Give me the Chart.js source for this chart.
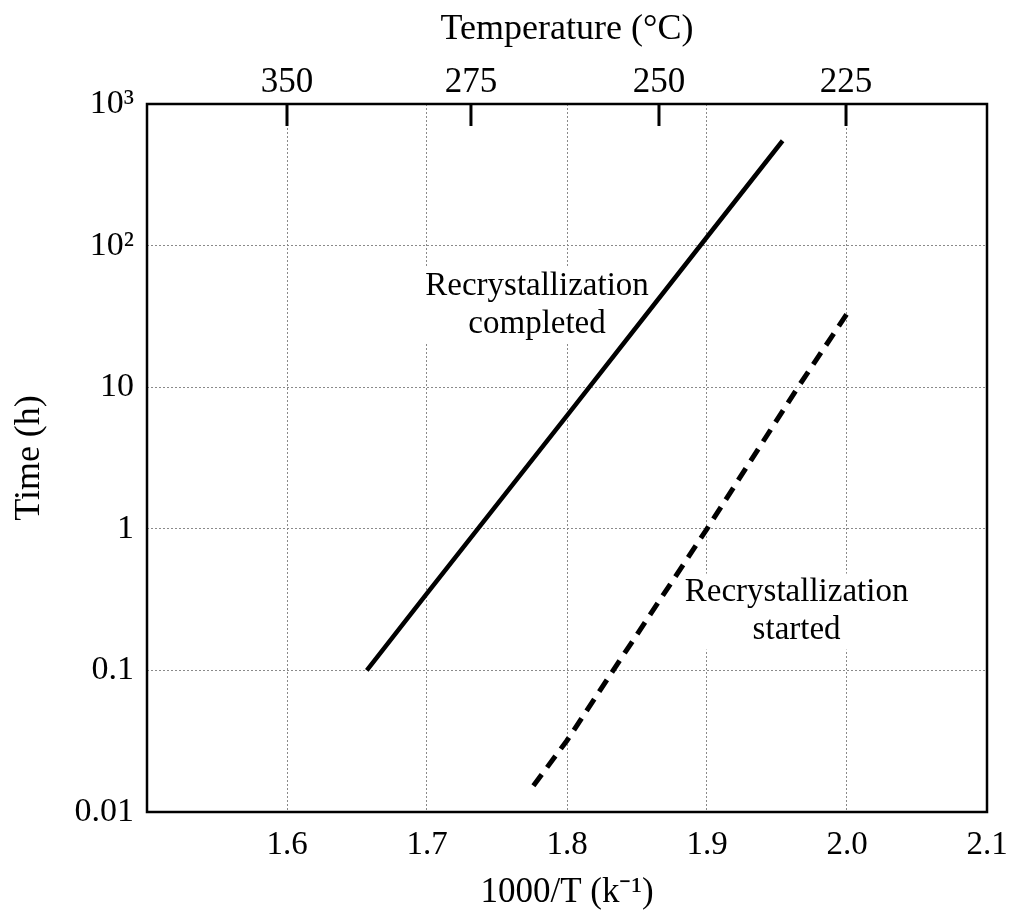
<!DOCTYPE html>
<html>
<head>
<meta charset="utf-8">
<script src="https://cdn.jsdelivr.net/npm/chart.js@4.4.1/dist/chart.umd.min.js"></script>
<style>
  html, body { margin: 0; padding: 0; background: #fff; }
</style>
</head>
<body>
<canvas id="recrystChart" width="1010" height="922"></canvas>
<script>
// 1000/T (k^-1) against time (h) for each curve
const completedX = [1.657, 1.7, 1.8, 1.9, 1.954];
const completedY = [0.1, 0.35, 6.3, 115, 550];
const startedX = [1.776, 1.8, 1.833, 1.9, 1.965, 2.0];
const startedY = [0.0153, 0.032, 0.1, 1, 10, 33];

const timeTicks = [0.01, 0.1, 1, 10, 100, 1000];
const timeLabels = ['0.01', '0.1', '1', '10', '10²', '10³'];
const invTTicks = [1.6, 1.7, 1.8, 1.9, 2.0, 2.1];
// temperature marks along the top, placed on the 1000/T scale
const tempTicks = [1.6, 1.7314, 1.8657, 1.9993];
const tempLabels = ['350', '275', '250', '225'];

// curve captions: [1000/T, time, lines]
const captions = [
  [1.7786, 38, ['Recrystallization', 'completed']],
  [1.964, 0.26, ['Recrystallization', 'started']]
];

Chart.defaults.font.family = '"Liberation Serif", "Times New Roman", serif';
Chart.defaults.color = '#000';

const toPoints = (xs, ys) => xs.map((x, i) => ({ x: x, y: ys[i] }));

const gridStyle = {
  color: '#8a8a8a',
  lineWidth: 1,
  drawTicks: false
};

const framePlugin = {
  id: 'frame',
  beforeDatasetsDraw(chart) {
    const { ctx } = chart;
    const xs = chart.scales.x, ys = chart.scales.y;
    ctx.save();
    ctx.font = '33px "Liberation Serif", serif';
    ctx.textAlign = 'center';
    ctx.textBaseline = 'middle';
    captions.forEach(c => {
      const cx = xs.getPixelForValue(c[0]);
      const cy = ys.getPixelForValue(c[1]);
      const lines = c[2];
      const lh = 38;
      const w = Math.max(...lines.map(l => ctx.measureText(l).width)) + 8;
      const h = lh * lines.length;
      ctx.fillStyle = '#fff';
      ctx.fillRect(cx - w / 2, cy - h / 2, w, h);
      ctx.fillStyle = '#000';
      lines.forEach((l, i) => ctx.fillText(l, cx, cy - h / 2 + lh / 2 + i * lh));
    });
    ctx.restore();
  },
  afterDraw(chart) {
    const { ctx, chartArea: a } = chart;
    const top = chart.scales.xTop;
    ctx.save();
    ctx.strokeStyle = '#000';
    ctx.lineWidth = 2.5;
    ctx.strokeRect(a.left, a.top, a.right - a.left, a.bottom - a.top);
    // temperature marks point down into the plot
    ctx.lineWidth = 3;
    top.ticks.forEach(t => {
      const x = top.getPixelForValue(t.value);
      ctx.beginPath();
      ctx.moveTo(x, a.top);
      ctx.lineTo(x, a.top + 22);
      ctx.stroke();
    });
    ctx.restore();
  }
};

const ctx = document.getElementById('recrystChart').getContext('2d');
const recrystChart = new Chart(ctx, {
  type: 'line',
  data: {
    datasets: [{
      label: 'Recrystallization completed',
      data: toPoints(completedX, completedY),
      borderColor: '#000',
      borderWidth: 4.5,
      pointRadius: 0,
      tension: 0,
      xAxisID: 'x',
      yAxisID: 'y'
    }, {
      label: 'Recrystallization started',
      data: toPoints(startedX, startedY),
      borderColor: '#000',
      borderWidth: 5,
      borderDash: [14, 9],
      pointRadius: 0,
      tension: 0,
      xAxisID: 'x',
      yAxisID: 'y'
    }]
  },
  options: {
    responsive: false,
    animation: false,
    events: [],
    layout: { padding: { right: 23 } },
    plugins: {
      legend: { display: false },
      tooltip: { enabled: false }
    },
    scales: {
      x: {
        type: 'linear',
        position: 'bottom',
        min: 1.5,
        max: 2.1,
        afterBuildTicks: s => { s.ticks = invTTicks.map(v => ({ value: v })); },
        afterFit: s => { s.height = 110; s.paddingLeft = 0; s.paddingRight = 0; },
        ticks: {
          padding: 14,
          font: { size: 33 },
          callback: v => v.toFixed(1)
        },
        grid: Object.assign({ borderDash: [2, 2] }, gridStyle),
        border: { display: false, dash: [2, 2] },
        title: {
          display: true,
          text: '1000/T (k⁻¹)',
          font: { size: 35 },
          padding: { top: 0, bottom: 8 }
        }
      },
      xTop: {
        type: 'linear',
        position: 'top',
        min: 1.5,
        max: 2.1,
        afterBuildTicks: s => { s.ticks = tempTicks.map(v => ({ value: v })); },
        afterFit: s => { s.height = 104; s.paddingLeft = 0; s.paddingRight = 0; },
        ticks: {
          padding: 0,
          font: { size: 35 },
          callback: (v, i) => tempLabels[i]
        },
        grid: { display: false, drawTicks: false },
        border: { display: false },
        title: {
          display: true,
          text: 'Temperature (°C)',
          font: { size: 36 },
          padding: { top: 8, bottom: 0 }
        }
      },
      y: {
        type: 'logarithmic',
        position: 'left',
        min: 0.01,
        max: 1000,
        afterBuildTicks: s => { s.ticks = timeTicks.map(v => ({ value: v })); },
        afterFit: s => { s.width = 147; },
        ticks: {
          padding: 13,
          font: { size: 34 },
          callback: (v, i) => timeLabels[i]
        },
        grid: gridStyle,
        border: { display: false, dash: [2, 2] },
        title: {
          display: true,
          text: 'Time (h)',
          font: { size: 36 },
          padding: { top: 8, bottom: 0 }
        }
      }
    }
  },
  plugins: [framePlugin]
});
</script>
</body>
</html>
